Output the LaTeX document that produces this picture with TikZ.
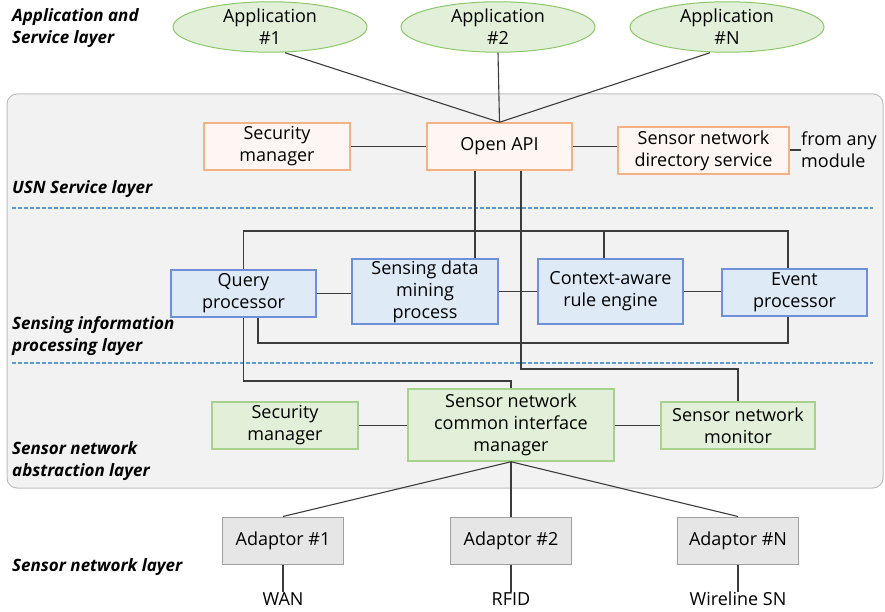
\documentclass[tikz,border=0pt]{standalone}
\usepackage{fontspec}
\setmainfont{Open Sans}
\usetikzlibrary{shapes.geometric,calc}
\definecolor{appfill}{RGB}{226,240,217}
\definecolor{appedge}{RGB}{140,200,105}
\definecolor{svcfill}{RGB}{254,246,242}
\definecolor{svcedge}{RGB}{244,177,131}
\definecolor{procfill}{RGB}{222,235,247}
\definecolor{procedge}{RGB}{111,143,216}
\definecolor{absfill}{RGB}{226,240,217}
\definecolor{absedge}{RGB}{169,209,142}
\definecolor{adpfill}{RGB}{230,230,230}
\definecolor{adpedge}{RGB}{160,160,160}
\definecolor{panelfill}{RGB}{242,242,242}
\definecolor{paneledge}{RGB}{191,191,191}
\definecolor{sepblue}{RGB}{91,155,213}
\definecolor{wiregray}{RGB}{60,60,60}
\tikzset{
  txt/.style={
    font=\fontsize{18}{22}\selectfont,
    align=center,
    inner sep=0pt
  },
  box/.style={txt, rectangle, line width=1.5pt, minimum height=47pt},
  app/.style={
    txt, ellipse,
    draw=appedge, fill=appfill,
    line width=1pt,
    minimum width=194pt, minimum height=44pt
  },
  svc/.style={box, draw=svcedge, fill=svcfill},
  proc/.style={box, draw=procedge, fill=procfill},
  abst/.style={box, draw=absedge, fill=absfill},
  adp/.style={
    box, draw=adpedge, fill=adpfill,
    line width=1pt,
    minimum width=121pt
  },
  layer/.style={
    font=\fontsize{17}{22}\selectfont\bfseries\itshape,
    align=left, anchor=west, inner sep=0pt
  },
  wire/.style={draw=wiregray, line width=1.1pt},
  sep/.style={draw=sepblue, line width=1.1pt, dash pattern=on 4pt off 2pt}
}

\begin{document}
\begin{tikzpicture}[x=1pt,y=-1pt]
  \useasboundingbox (0,0) rectangle (885,612);
  % middle panel
  \draw[rounded corners=10pt, fill=panelfill, draw=paneledge, line width=1pt]
    (7,94) rectangle (883,488);
  \draw[sep] (12,208) -- (873,208);
  \draw[sep] (12,363) -- (873,363);

  % layer names
  \node[layer] (lapp) at (12,28) {Application and\\Service layer};
  \node[layer] (lusn) at (12,189) {USN Service layer};
  \node[layer] (lsip) at (12,336) {Sensing information\\processing layer};
  \node[layer] (lsna) at (12,461) {Sensor network\\abstraction layer};
  \node[layer] (lsn) at (12,567) {Sensor network layer};

  % applications
  \node[app] (app1) at (270,27) {Application\\\#1};
  \node[app] (app2) at (498,27) {Application\\\#2};
  \node[app] (appN) at (727,27) {Application\\\#N};

  % USN service layer
  \node[svc, minimum width=145pt] (api) at (499.5,146.5) {Open API};
  \node[svc, minimum width=146pt] (secu) at (277,146.5) {Security\\manager};
  \node[svc, minimum width=171pt] (dir) at (703.5,150.5)
    {Sensor network\\directory service};
  \node[txt, align=left, anchor=west] (anymod) at (801,150) {from any\\module};

  % sensing information processing layer
  \node[proc, minimum width=145pt] (query) at (243.5,293.5) {Query\\processor};
  \node[proc, minimum width=146pt, minimum height=65pt] (mining) at (425,291.5)
    {Sensing data\\mining\\process};
  \node[proc, minimum width=145pt, minimum height=65pt] (ctx) at (610.5,291.5)
    {Context-aware\\rule engine};
  \node[proc, minimum width=145pt] (event) at (794.5,292.5) {Event\\processor};

  % sensor network abstraction layer
  \node[abst, minimum width=146pt] (secl) at (285,425.5) {Security\\manager};
  \node[abst, minimum width=206pt, minimum height=72pt] (cim) at (511,425)
    {Sensor network\\common interface\\manager};
  \node[abst, minimum width=154pt] (mon) at (738,425.5)
    {Sensor network\\monitor};

  % sensor network layer
  \node[adp] (adp1) at (283,540.5) {Adaptor \#1};
  \node[adp] (adp2) at (511,540.5) {Adaptor \#2};
  \node[adp] (adpN) at (738,540.5) {Adaptor \#N};
  \node[txt, anchor=north] (wan) at (283,592) {WAN};
  \node[txt, anchor=north] (rfid) at (511,592) {RFID};
  \node[txt, anchor=north] (wsn) at (738,592) {Wireline SN};

  % bend points
  \coordinate (apiL) at (475,0);
  \coordinate (apiR) at (521,0);
  \coordinate (ctxT) at (604,0);
  \coordinate (evtX) at (788,0);
  \coordinate (qryB) at (258,0);
  \coordinate (busT) at (0,231);
  \coordinate (busB) at (0,343);
  \coordinate (monY) at (0,369);
  \coordinate (cimY) at (0,381);

  % connectors
  \draw[wire] ([xshift=15pt]app1.south) -- (api.north);
  \draw[wire] (app2.south) -- (api.north);
  \draw[wire] ([xshift=-17pt]appN.south) -- (api.north);
  \draw[wire] (secu.east) -- (api.west);
  \draw[wire] (api.east) -- (api.east -| dir.west);
  \draw[wire] (dir.east |- anymod.west) -- (anymod.west);

  \draw[wire] (api.south -| apiL) -- (apiL |- mining.north);
  \draw[wire] (query.north) -- (query.north |- busT) -| (event.north -| evtX);
  \draw[wire] (ctx.north -| ctxT) -- (ctxT |- busT);
  \draw[wire] (query.east) -- (mining.west |- query.east);
  \draw[wire] (mining.east) -- (ctx.west);
  \draw[wire] (ctx.east) -- (ctx.east -| event.west);
  \draw[wire] (query.south -| qryB) -- (qryB |- busB) -| (event.south -| evtX);

  \draw[wire] (api.south -| apiR) -- (apiR |- monY) -| (mon.north);
  \draw[wire] (query.south) -- (query.south |- cimY) -| (cim.north);
  \draw[wire] (secl.east) -- (cim.west |- secl.east);
  \draw[wire] (cim.east |- mon.west) -- (mon.west);

  \draw[wire] (cim.south) -- (adp1.north);
  \draw[wire] (cim.south) -- (adp2.north);
  \draw[wire] (cim.south) -- (adpN.north);
  \draw[wire] (adp1.south) -- (wan.north);
  \draw[wire] (adp2.south) -- (rfid.north);
  \draw[wire] (adpN.south) -- (wsn.north);
\end{tikzpicture}
\end{document}
